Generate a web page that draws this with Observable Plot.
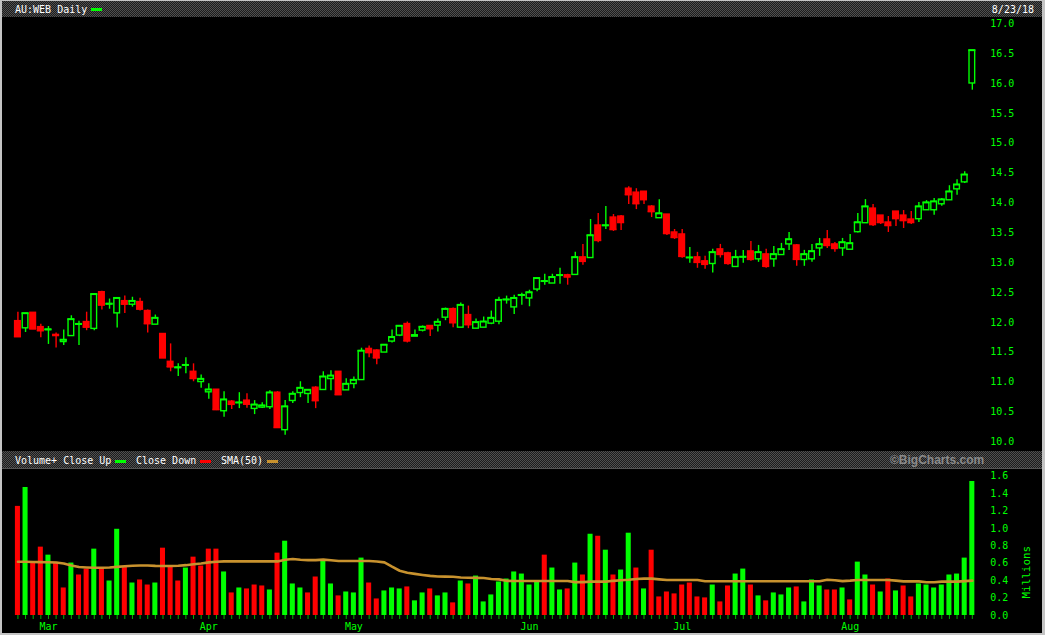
<!DOCTYPE html>
<html><head><meta charset="utf-8">
<script src="https://cdn.jsdelivr.net/npm/d3@7"></script>
<script src="https://cdn.jsdelivr.net/npm/@observablehq/plot@0.6"></script>
<style>
html,body{margin:0;padding:0;background:#000;}
#frame{position:relative;width:1045px;height:635px;background:#000;overflow:hidden;box-sizing:border-box;
  border-left:2px solid #c4c4c4;border-top:1px solid #c4c4c4;border-right:3px solid #c4c4c4;border-bottom:2px solid #c4c4c4;
  font-family:"DejaVu Sans Mono",monospace;font-size:10px;}
.band{position:absolute;left:0;right:0;background:repeating-conic-gradient(#505050 0 25%, #1c1c1c 0 50%) 0 0/2px 2px;color:#fff;}
.band span{position:absolute;white-space:pre;}
.sw{position:absolute;height:3px;width:11px;}
#p1{position:absolute;left:-2px;top:16px;}
#p2{position:absolute;left:-2px;top:468px;}
</style></head>
<body>
<div id="frame">
  <div class="band" style="top:0;height:16px;">
    <span style="left:13px;top:3px;">AU:WEB Daily</span>
    <div class="sw" style="left:89px;top:7px;background:#00ff00;"></div>
    <span style="right:8px;top:3px;">8/23/18</span>
  </div>
  <div class="band" style="top:450px;height:17px;border-bottom:1px solid #555;">
    <span style="left:13px;top:4px;">Volume+ Close Up</span>
    <div class="sw" style="left:113px;top:9px;background:#00ff00;"></div>
    <span style="left:134px;top:4px;">Close Down</span>
    <div class="sw" style="left:198px;top:9px;background:#ff0000;"></div>
    <span style="left:219px;top:4px;">SMA(50)</span>
    <div class="sw" style="left:265px;top:9px;background:#c8922e;"></div>
    <span style="left:888px;top:2px;font-family:'Liberation Sans',Arial,sans-serif;font-weight:bold;font-size:12px;color:#8a8a8a;">©BigCharts.com</span>
  </div>
  <div id="p1"></div>
  <div id="p2"></div>
</div>
<script>
// ---- data (AU:WEB daily, 23 Feb 2018 – 23 Aug 2018) ----
const priorClose = 11.90;
const open = [12.02,11.90,12.16,11.92,11.87,11.79,11.67,11.77,11.96,12.005,
11.89,12.505,12.30,12.15,12.355,12.295,12.34,12.19,11.961,11.805,
11.339,11.235,11.278,11.172,11.00,10.828,10.872,10.511,10.672,10.65,
10.689,10.55,10.572,10.578,10.822,10.194,10.683,10.816,10.80,10.905,
10.867,11.05,11.172,10.861,10.967,11.033,11.555,11.528,11.494,11.678,
11.778,11.972,11.761,11.861,11.939,11.944,12.078,12.222,11.911,12.122,
11.894,11.911,11.978,12.011,12.375,12.25,12.45,12.40,12.549,12.68,
12.65,12.78,12.788,12.794,13.088,13.077,13.622,13.615,13.755,13.772,
14.238,14.172,14.188,13.938,13.744,13.805,13.505,13.472,13.08,13.088,
13.022,12.977,13.222,13.155,12.927,13.09,13.188,13.055,13.138,13.055,
13.127,13.305,13.288,13.044,13.055,13.238,13.388,13.305,13.238,13.216,
13.51,13.66,13.905,13.788,13.672,13.855,13.788,13.722,13.727,13.877,
13.877,13.977,14.044,14.227,14.344,16.0];
const high = [12.17,12.15,12.16,11.97,11.93,11.82,11.87,12.11,12.02,12.17,
12.47,12.52,12.39,12.405,12.44,12.42,12.405,12.205,12.122,11.805,
11.639,11.305,11.405,11.305,11.12,10.972,10.872,10.839,10.689,10.822,
10.805,10.689,10.655,10.855,10.839,10.689,10.839,11.005,10.867,10.922,
11.172,11.189,11.172,11.055,11.083,11.567,11.605,11.539,11.622,11.872,
11.939,12.005,11.872,11.939,11.939,12.055,12.239,12.239,12.322,12.272,
12.055,12.089,12.189,12.422,12.439,12.455,12.488,12.538,12.738,12.805,
12.805,12.905,12.805,13.172,13.305,13.722,13.822,13.938,13.805,13.788,
14.272,14.238,14.188,13.955,14.055,13.805,13.555,13.555,13.255,13.172,
13.105,13.222,13.305,13.172,13.205,13.205,13.355,13.288,13.222,13.272,
13.322,13.505,13.305,13.205,13.305,13.405,13.538,13.338,13.405,13.472,
13.822,14.055,13.972,13.788,13.772,13.855,13.872,13.855,14.005,14.038,
14.072,14.072,14.288,14.388,14.522,16.555];
const low = [11.76,11.83,11.89,11.74,11.63,11.57,11.61,11.77,11.61,11.86,
11.86,12.205,12.22,11.905,12.15,12.255,12.19,11.822,11.961,11.405,
11.172,11.094,11.139,11.005,10.895,10.711,10.522,10.411,10.539,10.555,
10.561,10.455,10.555,10.539,10.239,10.111,10.639,10.739,10.639,10.555,
10.867,10.855,10.789,10.861,10.889,11.033,11.405,11.289,11.494,11.655,
11.761,11.655,11.761,11.839,11.761,11.839,12.028,11.911,11.911,11.894,
11.894,11.911,11.961,11.961,12.305,12.133,12.288,12.261,12.511,12.622,
12.65,12.638,12.622,12.794,12.955,13.077,13.333,13.555,13.522,13.538,
13.972,13.888,13.972,13.755,13.744,13.455,13.388,13.072,12.988,12.905,
12.888,12.827,13.077,12.955,12.927,12.988,13.022,13.005,12.905,12.922,
13.127,13.205,12.938,12.938,13.005,13.105,13.238,13.172,13.105,13.216,
13.494,13.66,13.605,13.638,13.505,13.605,13.572,13.638,13.672,13.877,
13.794,13.944,14.044,14.127,14.327,15.888];
const close = [11.76,12.15,11.89,11.86,11.88,11.78,11.705,12.05,11.97,11.92,
12.47,12.29,12.31,12.405,12.305,12.355,12.222,11.978,12.072,11.405,
11.255,11.244,11.283,11.06,11.05,10.872,10.539,10.705,10.628,10.655,
10.63,10.62,10.605,10.822,10.239,10.589,10.80,10.90,10.867,10.689,
11.089,11.105,10.789,10.967,11.033,11.522,11.494,11.405,11.622,11.75,
11.939,11.689,11.783,11.922,11.894,12.005,12.222,11.994,12.289,11.961,
12.00,12.01,12.072,12.372,12.38,12.405,12.455,12.50,12.738,12.688,
12.755,12.788,12.76,13.088,13.022,13.455,13.372,13.622,13.555,13.672,
14.138,13.988,14.055,13.855,13.822,13.488,13.422,13.105,13.083,13.005,
12.972,13.172,13.138,12.988,13.088,13.095,13.055,13.172,12.938,13.138,
13.222,13.388,13.055,13.138,13.188,13.305,13.288,13.238,13.338,13.322,
13.672,13.938,13.638,13.672,13.622,13.738,13.705,13.672,13.938,14.005,
14.022,14.055,14.188,14.305,14.472,16.555];
const volume = [1.253,1.47,0.61,0.785,0.693,0.61,0.316,0.602,0.465,0.533,
0.762,0.545,0.396,0.99,0.564,0.373,0.408,0.35,0.373,0.773,
0.556,0.396,0.545,0.67,0.568,0.762,0.762,0.5,0.259,0.316,
0.305,0.35,0.339,0.293,0.716,0.853,0.362,0.316,0.259,0.442,
0.636,0.362,0.225,0.27,0.259,0.659,0.373,0.19,0.282,0.316,
0.305,0.328,0.168,0.259,0.305,0.225,0.259,0.145,0.396,0.362,
0.453,0.156,0.236,0.385,0.419,0.5,0.476,0.35,0.385,0.693,
0.545,0.293,0.305,0.602,0.465,0.933,0.91,0.75,0.465,0.522,
0.945,0.545,0.305,0.75,0.213,0.27,0.248,0.35,0.373,0.213,
0.202,0.35,0.156,0.339,0.476,0.533,0.35,0.225,0.168,0.259,
0.236,0.316,0.328,0.156,0.408,0.339,0.293,0.293,0.316,0.179,
0.613,0.465,0.35,0.27,0.419,0.282,0.339,0.213,0.362,0.35,
0.316,0.35,0.465,0.476,0.659,1.539];
const sma50 = [0.617,0.617,0.615,0.613,0.612,0.608,0.598,0.575,0.556,0.552,
0.548,0.548,0.552,0.558,0.565,0.572,0.575,0.575,0.57,0.568,
0.568,0.572,0.578,0.588,0.598,0.61,0.618,0.621,0.621,0.621,
0.621,0.621,0.621,0.621,0.621,0.64,0.648,0.64,0.636,0.636,
0.642,0.635,0.626,0.625,0.625,0.625,0.625,0.62,0.61,0.56,
0.514,0.49,0.478,0.466,0.455,0.448,0.446,0.444,0.436,0.433,
0.432,0.43,0.42,0.415,0.398,0.396,0.396,0.396,0.396,0.396,
0.396,0.396,0.396,0.383,0.383,0.389,0.389,0.389,0.398,0.405,
0.41,0.42,0.423,0.423,0.415,0.408,0.408,0.408,0.408,0.408,
0.394,0.394,0.394,0.394,0.394,0.394,0.394,0.394,0.394,0.394,
0.394,0.394,0.394,0.394,0.394,0.394,0.41,0.405,0.395,0.4,
0.408,0.408,0.408,0.408,0.408,0.4,0.392,0.392,0.392,0.382,
0.382,0.389,0.389,0.389,0.395,0.4];
const monthLabels = ["Mar","Apr","May","Jun","Jul","Aug"];
const monthStartIndex = [4,25,44,67,87,109];
const priceTicks = [10,10.5,11,11.5,12,12.5,13,13.5,14,14.5,15,15.5,16,16.5,17];
const volumeTicks = [0,0.2,0.4,0.6,0.8,1.0,1.2,1.4,1.6];

// ---- build ----
const GREEN = "#00ff00", RED = "#ff0000", SMA = "#c8922e";
const rows = close.map((c, i) => ({
  i, open: open[i], high: high[i], low: low[i], close: c,
  volume: volume[i], sma: sma50[i],
  candleColor: c >= open[i] ? GREEN : RED,
  bodyFill: c >= open[i] ? "#000" : RED,
  volColor: c > (i ? close[i - 1] : priorClose) ? GREEN : RED
}));
const xDomain = [0, close.length - 1];
const W = 1047;
const common = {
  width: W, marginLeft: 17.5, marginRight: 70.5,
  color: {type: "identity"},
  style: {background: "transparent", color: GREEN, fontFamily: "DejaVu Sans Mono, monospace", fontSize: "10px", overflow: "visible"}
};
const hw = 0.37;
const p1 = Plot.plot({
  ...common, height: 435, marginTop: 6.3, marginBottom: 8.7,
  x: {type: "linear", domain: xDomain, axis: null},
  y: {domain: [10, 17], axis: null},
  marks: [
    Plot.axisY({anchor: "right", ticks: priceTicks, tickSize: 0, tickPadding: 18, tickFormat: d => d.toFixed(1), label: null}),
    Plot.ruleX(rows, {x: "i", y1: "low", y2: "high", stroke: "candleColor", strokeWidth: 1.4}),
    Plot.rect(rows, {x1: d => d.i - hw, x2: d => d.i + hw, y1: "open", y2: "close", fill: "bodyFill", stroke: "candleColor", strokeWidth: 1.4}),
    Plot.ruleY(rows, {x1: d => d.i - hw - 0.09, x2: d => d.i + hw + 0.09, y: "close", stroke: "candleColor", strokeWidth: 1.6})
  ]
});
document.getElementById("p1").appendChild(p1);

const p2 = Plot.plot({
  ...common, height: 163, marginTop: 6.7, marginBottom: 16.3,
  x: {type: "linear", domain: xDomain, axis: null},
  y: {domain: [0, 1.6], axis: null},
  marks: [
    Plot.axisY({anchor: "right", ticks: volumeTicks, tickSize: 0, tickPadding: 18, tickFormat: d => d.toFixed(1), label: null}),
    Plot.text(["Millions"], {frameAnchor: "right", dx: 54, rotate: -90, fill: GREEN, fontSize: 11}),
    Plot.rectY(rows, {x1: d => d.i - 0.33, x2: d => d.i + 0.33, y1: 0, y2: "volume", fill: "volColor"}),
    Plot.line(rows, {x: "i", y: "sma", stroke: SMA, strokeWidth: 2.6, curve: "linear"}),
    Plot.axisX({ticks: rows.map(d => d.i), tickSize: 4, tickPadding: 3, stroke: GREEN, strokeOpacity: 0.7,
      tickFormat: i => { const k = monthStartIndex.indexOf(i); return k >= 0 ? monthLabels[k] : ""; }, label: null})
  ]
});
document.getElementById("p2").appendChild(p2);
</script>
</body></html>
